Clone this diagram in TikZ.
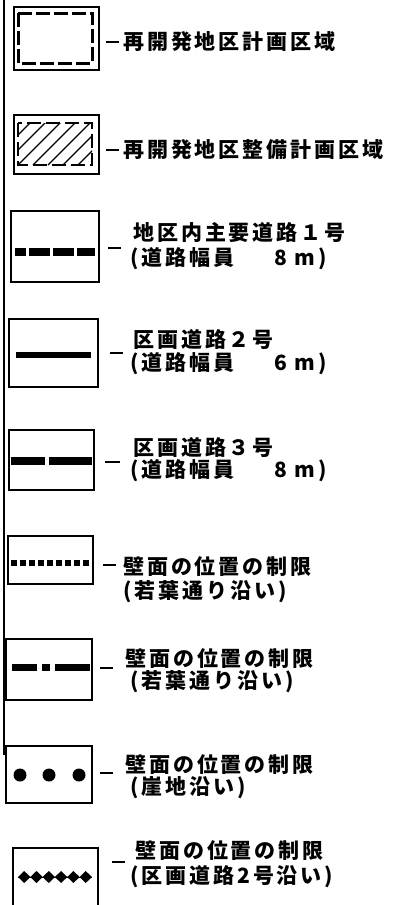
\documentclass[tikz,border=0pt]{standalone}
\usepackage{fontspec}
\newfontfamily\jp[LetterSpace=14]{Noto Sans CJK JP}
\begin{document}
\begin{tikzpicture}[x=1pt,y=-1pt,
  box/.style={draw, line width=2pt, minimum width=#1, inner sep=0pt, anchor=north west},
  lbl/.style={anchor=west, inner sep=0pt, font=\jp\bfseries\fontsize{21}{21}\selectfont},
  leader/.style={line width=2pt},
  road/.style={line width=#1},
]
\useasboundingbox[fill=white] (0,0) rectangle (405,905);
% left edge line
\coordinate (e1) at (4,0); \coordinate (e2) at (4,755);
\draw[line width=2.5pt] (e1) -- (e2);

% 1
\node[box=85pt, minimum height=63pt] (b1) at (13,6) {};
\draw[line width=3pt, dash pattern=on 14pt off 4pt] (18,13) rectangle (92,63);
\node[lbl] (l1) at (123,42) {再開発地区計画区域};
\draw[leader] (106,42) -- (119,42);

% 2
\node[box=85pt, minimum height=59pt] (b2) at (13,114) {};
\begin{scope}
\clip (18,123) rectangle (92,165);
\foreach \i in {-60,-45,...,90} \draw[line width=1.3pt] (18+\i,165) -- (18+\i+45,120);
\end{scope}
\draw[line width=2.5pt, dash pattern=on 14pt off 5pt] (18,123) rectangle (92,165);
\node[lbl] (l2) at (123,150) {再開発地区整備計画区域};
\draw[leader] (106,150) -- (119,150);

% 3
\node[box=88pt, minimum height=71pt] (b3) at (10,210) {};
\draw[road=8pt, dash pattern=on 21pt off 3pt, dash phase=10pt] (15,252) -- (95,252);
\node[lbl] (l3a) at (133,233) {地区内主要道路１号};
\node[lbl] (l3b) at (130,259) {(道路幅員\hspace{40pt}8 m)};
\draw[leader] (108,248) -- (121,248);

% 4
\node[box=89pt, minimum height=68pt] (b4) at (8,318) {};
\draw[road=6pt] (16,355) -- (91,355);
\node[lbl] (l4a) at (133,340) {区画道路２号};
\node[lbl] (l4b) at (130,364) {(道路幅員\hspace{40pt}6 m)};
\draw[leader] (110,353) -- (123,353);

% 5
\node[box=85pt, minimum height=60pt] (b5) at (8,429) {};
\draw[road=8pt] (11,461) -- (45,461) (49,461) -- (92,461);
\node[lbl] (l5a) at (133,448) {区画道路３号};
\node[lbl] (l5b) at (130,471) {(道路幅員\hspace{40pt}8 m)};
\draw[leader] (105,462) -- (120,462);

% 6
\node[box=85pt, minimum height=48pt] (b6) at (7,535) {};
\draw[road=6pt, dash pattern=on 6pt off 3pt] (11,563) -- (92,563);
\node[lbl] (l6a) at (123,567) {壁面の位置の制限};
\node[lbl] (l6b) at (123,592) {(若葉通り沿い)};
\draw[leader] (103,565) -- (116,565);

% 7
\node[box=86pt, minimum height=61pt] (b7) at (5,638) {};
\draw[road=7pt] (12,667) -- (37,667) (42,667) -- (50,667) (55,667) -- (90,667);
\node[lbl] (l7a) at (125,659) {壁面の位置の制限};
\node[lbl] (l7b) at (130,682) {(若葉通り沿い)};
\draw[leader] (100,668) -- (113,668);

% 8
\node[box=86pt, minimum height=57pt] (b8) at (5,745) {};
\foreach \x in {20,49,79} \fill (\x,775) circle (6.5pt);
\node[lbl] (l8a) at (125,765) {壁面の位置の制限};
\node[lbl] (l8b) at (130,788) {(崖地沿い)};
\draw[leader] (100,773) -- (113,773);

% 9
\node[box=85pt, minimum height=63pt] (b9) at (12,847) {};
\draw[line width=1pt] (18,877) -- (92,877);
\foreach \i in {0,...,5} \fill ({24.2+12.3*\i},877) ++(-6.2,0) -- ++(6.2,-6) -- ++(6.2,6) -- ++(-6.2,6) -- cycle;
\node[lbl] (l9a) at (135,851) {壁面の位置の制限};
\node[lbl] (l9b) at (130,877) {(区画道路2号沿い)};
\draw[leader] (112,862) -- (125,862);
\end{tikzpicture}
\end{document}
